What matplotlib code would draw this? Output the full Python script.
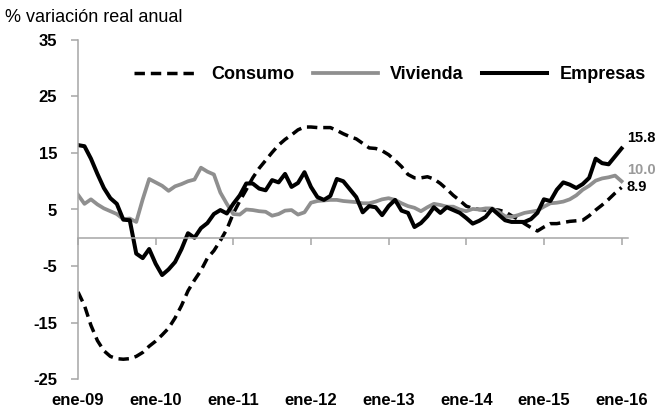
import numpy as np
import matplotlib
matplotlib.use("Agg")
import matplotlib.pyplot as plt
from matplotlib.transforms import blended_transform_factory

plt.rcParams['font.family'] = ['Liberation Sans', 'DejaVu Sans']

# Monthly data, Jan 2009 - Jan 2016 (% real annual variation)
consumo = [-9.6, -12.0, -15.5, -18.2, -20.0, -21.0, -21.4, -21.5, -21.4, -21.0,
           -20.3, -19.2, -18.3, -17.2, -16.0, -14.2, -12.0, -9.4, -7.5, -5.8,
           -3.6, -2.3, -0.5, 1.5, 4.3, 6.5, 8.5, 10.6, 12.3, 13.7,
           15.1, 16.4, 17.4, 18.2, 19.1, 19.6, 19.6, 19.5, 19.5, 19.5,
           19.0, 18.4, 17.9, 17.5, 16.7, 15.9, 15.8, 15.4, 14.7, 13.7,
           12.6, 11.2, 10.6, 10.6, 10.8, 10.4, 9.6, 8.6, 7.5, 6.6,
           5.6, 5.2, 5.0, 4.9, 5.0, 4.9, 4.6, 3.9, 3.3, 2.5,
           1.8, 1.2, 1.9, 2.5, 2.5, 2.7, 2.9, 3.0, 3.1, 3.9,
           4.9, 5.8, 6.8, 7.9, 8.9]

vivienda = [7.6, 6.0, 6.8, 5.9, 5.2, 4.7, 4.2, 3.3, 3.4, 2.8,
            6.8, 10.4, 9.8, 9.2, 8.3, 9.1, 9.5, 10.0, 10.3, 12.4,
            11.7, 11.2, 8.0, 6.0, 4.2, 4.1, 5.0, 4.9, 4.7, 4.6,
            3.9, 4.2, 4.8, 4.9, 4.1, 4.5, 6.2, 6.5, 6.6, 6.7,
            6.7, 6.5, 6.4, 6.3, 6.1, 6.1, 6.4, 6.8, 7.0, 6.7,
            6.1, 5.6, 5.3, 4.7, 5.4, 6.0, 5.8, 5.5, 5.5, 5.0,
            4.7, 5.1, 5.0, 5.2, 5.2, 4.6, 3.8, 3.7, 4.0, 4.4,
            4.6, 4.8, 5.5, 6.1, 6.2, 6.4, 6.8, 7.5, 8.5, 9.2,
            10.1, 10.5, 10.7, 11.0, 10.0]

empresas = [16.4, 16.2, 14.0, 11.3, 8.8, 7.0, 6.0, 3.2, 3.1, -2.8,
            -3.6, -2.0, -4.6, -6.6, -5.6, -4.3, -2.0, 0.8, 0.0, 1.7,
            2.6, 4.2, 4.9, 4.3, 6.0, 7.5, 9.6, 9.6, 8.7, 8.4,
            10.2, 9.8, 11.3, 9.0, 9.7, 11.6, 9.0, 7.2, 6.7, 7.4,
            10.4, 10.0, 8.6, 7.2, 4.5, 5.6, 5.4, 4.0, 5.6, 6.7,
            4.8, 4.4, 1.9, 2.6, 3.8, 5.4, 4.4, 5.4, 4.9, 4.4,
            3.5, 2.5, 3.0, 3.7, 5.1, 4.1, 3.1, 2.8, 2.8, 2.8,
            3.3, 4.4, 6.8, 6.5, 8.5, 9.8, 9.4, 8.8, 9.5, 10.6,
            14.0, 13.2, 13.0, 14.4, 15.8]

x_labels = ['ene-09', 'ene-10', 'ene-11', 'ene-12', 'ene-13', 'ene-14', 'ene-15', 'ene-16']
y_ticks = [-25, -15, -5, 5, 15, 25, 35]
end_labels = ['15.8', '10.0', '8.9']

months = np.arange(len(consumo))
x_ticks = np.arange(len(x_labels)) * 12

GREY = '#8f8f8f'
AXIS = '#a6a6a6'

fig = plt.figure(figsize=(6.57, 4.19), dpi=100)
ax = fig.add_axes([78 / 657, 1 - 379 / 419, 550 / 657, 339 / 419])

ax.plot(months, consumo, color='black', lw=2.5, dashes=(3, 1.7), label='Consumo')
ax.plot(months, vivienda, color=GREY, lw=2.7, label='Vivienda')
ax.plot(months, empresas, color='black', lw=2.9, label='Empresas')

ax.set_xlim(0, 85)
ax.set_ylim(-25, 35)

for s in ['top', 'right']:
    ax.spines[s].set_visible(False)
ax.spines['left'].set_color(AXIS)
ax.spines['left'].set_linewidth(1.1)
ax.spines['bottom'].set_position(('data', 0))
ax.spines['bottom'].set_color(AXIS)
ax.spines['bottom'].set_linewidth(1.1)

ax.set_yticks(y_ticks)
ax.set_yticklabels([str(v) for v in y_ticks], fontsize=12, fontweight='bold')
ax.tick_params(axis='y', direction='out', length=5, width=1.1, color=AXIS, pad=10)

ax.set_xticks(x_ticks)
ax.set_xticklabels([])
ax.tick_params(axis='x', direction='out', length=5, width=1.1, color=AXIS)

trans = blended_transform_factory(ax.transData, ax.transAxes)
for xt, lab in zip(x_ticks, x_labels):
    ax.text(xt, -21 / 339, lab, transform=trans, ha='center', va='center',
            fontsize=12, fontweight='bold', clip_on=False)

# end-of-series labels
ax.text(84.8, 17.6, end_labels[0], color='black', fontsize=10.5, fontweight='bold',
        va='center', ha='left', clip_on=False)
ax.text(84.8, 12.0, end_labels[1], color='#9a9a9a', fontsize=10.5, fontweight='bold',
        va='center', ha='left', clip_on=False)
ax.text(84.8, 8.9, end_labels[2], color='black', fontsize=10.5, fontweight='bold',
        va='center', ha='left', clip_on=False)

leg = ax.legend(loc='center', bbox_to_anchor=(0.567, 0.897), ncol=3, frameon=False,
                prop={'size': 13, 'weight': 'bold'}, handlelength=3.6,
                handletextpad=0.7, columnspacing=1.0)

fig.text(5 / 657, 1 - 17 / 419, '% variación real anual', fontsize=13,
         ha='left', va='center')

fig.savefig('out.png', dpi=100)
